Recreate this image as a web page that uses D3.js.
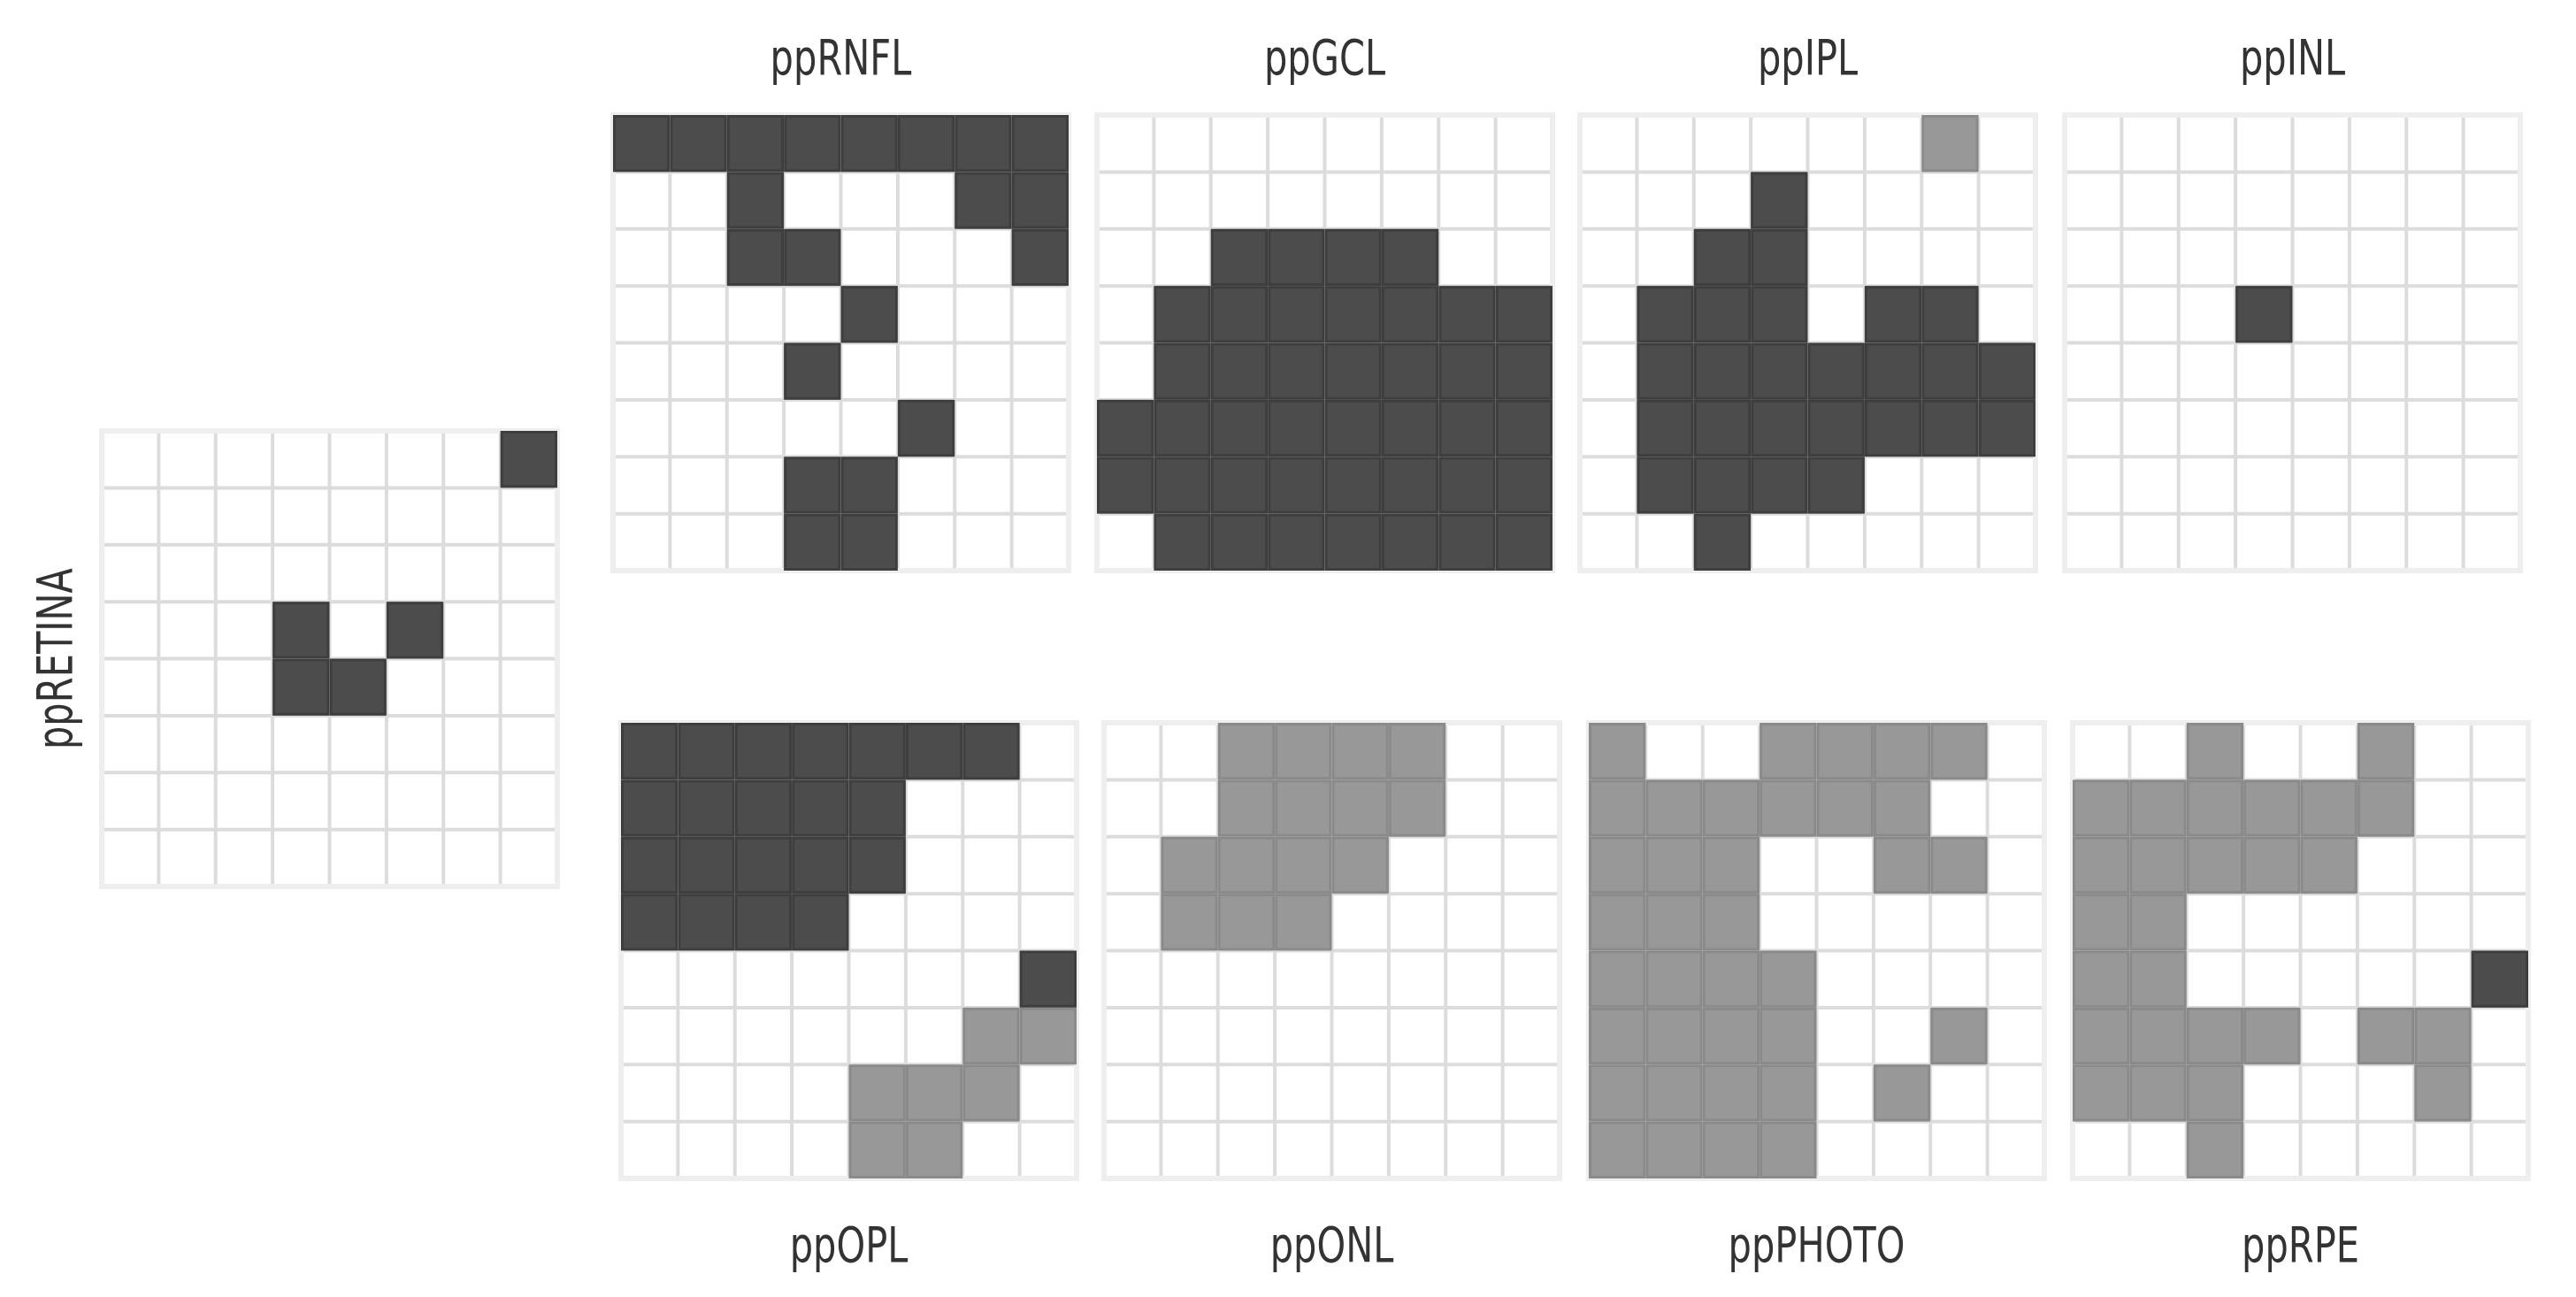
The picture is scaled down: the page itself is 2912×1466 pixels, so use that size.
<!DOCTYPE html>
<html>
<head>
<meta charset="utf-8">
<script src="https://cdn.jsdelivr.net/npm/d3@7"></script>
<style>
  html, body { margin: 0; padding: 0; background: #ffffff; }
  svg { display: block; }
  .label {
    font-family: "Liberation Sans Narrow", "DejaVu Sans Condensed", "Roboto Condensed", sans-serif;
    font-stretch: condensed;
    fill: #333333;
    font-size: 55px;
  }
</style>
</head>
<body>
<script>
// 8x8 sector maps per retinal layer: 0 = no change, 1 = moderate, 2 = strong
const ppRETINA = [
  [0,0,0,0,0,0,0,2],
  [0,0,0,0,0,0,0,0],
  [0,0,0,0,0,0,0,0],
  [0,0,0,2,0,2,0,0],
  [0,0,0,2,2,0,0,0],
  [0,0,0,0,0,0,0,0],
  [0,0,0,0,0,0,0,0],
  [0,0,0,0,0,0,0,0]
];
const ppRNFL = [
  [2,2,2,2,2,2,2,2],
  [0,0,2,0,0,0,2,2],
  [0,0,2,2,0,0,0,2],
  [0,0,0,0,2,0,0,0],
  [0,0,0,2,0,0,0,0],
  [0,0,0,0,0,2,0,0],
  [0,0,0,2,2,0,0,0],
  [0,0,0,2,2,0,0,0]
];
const ppGCL = [
  [0,0,0,0,0,0,0,0],
  [0,0,0,0,0,0,0,0],
  [0,0,2,2,2,2,0,0],
  [0,2,2,2,2,2,2,2],
  [0,2,2,2,2,2,2,2],
  [2,2,2,2,2,2,2,2],
  [2,2,2,2,2,2,2,2],
  [0,2,2,2,2,2,2,2]
];
const ppIPL = [
  [0,0,0,0,0,0,1,0],
  [0,0,0,2,0,0,0,0],
  [0,0,2,2,0,0,0,0],
  [0,2,2,2,0,2,2,0],
  [0,2,2,2,2,2,2,2],
  [0,2,2,2,2,2,2,2],
  [0,2,2,2,2,0,0,0],
  [0,0,2,0,0,0,0,0]
];
const ppINL = [
  [0,0,0,0,0,0,0,0],
  [0,0,0,0,0,0,0,0],
  [0,0,0,0,0,0,0,0],
  [0,0,0,2,0,0,0,0],
  [0,0,0,0,0,0,0,0],
  [0,0,0,0,0,0,0,0],
  [0,0,0,0,0,0,0,0],
  [0,0,0,0,0,0,0,0]
];
const ppOPL = [
  [2,2,2,2,2,2,2,0],
  [2,2,2,2,2,0,0,0],
  [2,2,2,2,2,0,0,0],
  [2,2,2,2,0,0,0,0],
  [0,0,0,0,0,0,0,2],
  [0,0,0,0,0,0,1,1],
  [0,0,0,0,1,1,1,0],
  [0,0,0,0,1,1,0,0]
];
const ppONL = [
  [0,0,1,1,1,1,0,0],
  [0,0,1,1,1,1,0,0],
  [0,1,1,1,1,0,0,0],
  [0,1,1,1,0,0,0,0],
  [0,0,0,0,0,0,0,0],
  [0,0,0,0,0,0,0,0],
  [0,0,0,0,0,0,0,0],
  [0,0,0,0,0,0,0,0]
];
const ppPHOTO = [
  [1,0,0,1,1,1,1,0],
  [1,1,1,1,1,1,0,0],
  [1,1,1,0,0,1,1,0],
  [1,1,1,0,0,0,0,0],
  [1,1,1,1,0,0,0,0],
  [1,1,1,1,0,0,1,0],
  [1,1,1,1,0,1,0,0],
  [1,1,1,1,0,0,0,0]
];
const ppRPE = [
  [0,0,1,0,0,1,0,0],
  [1,1,1,1,1,1,0,0],
  [1,1,1,1,1,0,0,0],
  [1,1,0,0,0,0,0,0],
  [1,1,0,0,0,0,0,2],
  [1,1,1,1,0,1,1,0],
  [1,1,1,0,0,0,1,0],
  [0,0,1,0,0,0,0,0]
];

const W = 2912, H = 1466;
const GRID = 515;
const N = 8;
const SQUEEZE = 0.84;   // horizontal compression of the label glyphs

// panel placement: label position relative to the grid
const panels = [
  { name: "ppRETINA", data: ppRETINA, x: 115,  y: 487, label: "left"   },
  { name: "ppRNFL",   data: ppRNFL,   x: 693,  y: 130, label: "top"    },
  { name: "ppGCL",    data: ppGCL,    x: 1240, y: 130, label: "top"    },
  { name: "ppIPL",    data: ppIPL,    x: 1786, y: 130, label: "top"    },
  { name: "ppINL",    data: ppINL,    x: 2334, y: 130, label: "top"    },
  { name: "ppOPL",    data: ppOPL,    x: 702,  y: 817, label: "bottom" },
  { name: "ppONL",    data: ppONL,    x: 1248, y: 817, label: "bottom" },
  { name: "ppPHOTO",  data: ppPHOTO,  x: 1796, y: 817, label: "bottom" },
  { name: "ppRPE",    data: ppRPE,    x: 2343, y: 817, label: "bottom" }
];

const fillColor   = d3.scaleOrdinal().domain([1, 2]).range(["#989898", "#4c4c4c"]);
const strokeColor = d3.scaleOrdinal().domain([1, 2]).range(["#8a8a8a", "#3e3e3e"]);

const svg = d3.select("body").append("svg")
  .attr("width", W).attr("height", H);

const xs = d3.scaleBand().domain(d3.range(N)).range([0, GRID]);
const ys = d3.scaleBand().domain(d3.range(N)).range([0, GRID]);

panels.forEach(p => {
  const g = svg.append("g").attr("transform", `translate(${p.x},${p.y})`);

  // background
  g.append("rect")
    .attr("width", GRID).attr("height", GRID)
    .attr("fill", "#ffffff");

  // inner grid lines
  const inner = d3.range(1, N);
  g.selectAll("line.v").data(inner).join("line")
    .attr("class", "v")
    .attr("x1", d => xs(d)).attr("x2", d => xs(d))
    .attr("y1", 0).attr("y2", GRID)
    .attr("stroke", "#dcdcdc").attr("stroke-width", 4);
  g.selectAll("line.h").data(inner).join("line")
    .attr("class", "h")
    .attr("y1", d => ys(d)).attr("y2", d => ys(d))
    .attr("x1", 0).attr("x2", GRID)
    .attr("stroke", "#dcdcdc").attr("stroke-width", 4);

  // outer frame
  g.append("rect")
    .attr("width", GRID).attr("height", GRID)
    .attr("fill", "none")
    .attr("stroke", "#eeeeee").attr("stroke-width", 6);

  // filled sectors
  const cells = [];
  p.data.forEach((row, r) => row.forEach((v, c) => { if (v > 0) cells.push({ r, c, v }); }));
  g.selectAll("rect.cell").data(cells).join("rect")
    .attr("class", "cell")
    .attr("x", d => xs(d.c) + 1.5)
    .attr("y", d => ys(d.r) + 1.5)
    .attr("width", xs.bandwidth() - 3)
    .attr("height", ys.bandwidth() - 3)
    .attr("fill", d => fillColor(d.v))
    .attr("stroke", d => strokeColor(d.v))
    .attr("stroke-width", 3);

  // label
  let tf;
  if (p.label === "top") {
    tf = `translate(${GRID / 2},-46) scale(${SQUEEZE},1)`;
  } else if (p.label === "bottom") {
    tf = `translate(${GRID / 2},${GRID + 94}) scale(${SQUEEZE},1)`;
  } else {
    tf = `translate(-34,${GRID / 2}) rotate(-90) scale(${SQUEEZE},1)`;
  }
  g.append("text").attr("class", "label")
    .attr("transform", tf)
    .attr("text-anchor", "middle")
    .text(p.name);
});
</script>
</body>
</html>
